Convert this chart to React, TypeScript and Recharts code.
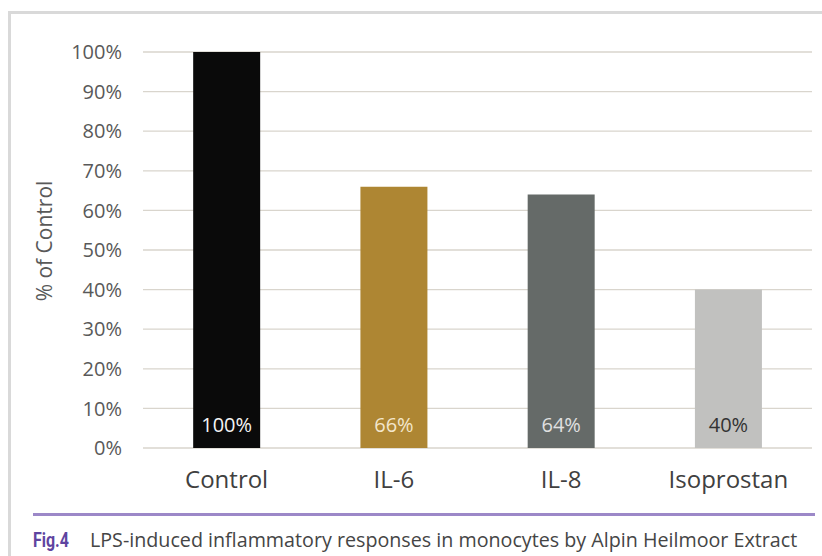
import React from "react";
import {
  BarChart,
  Bar,
  XAxis,
  YAxis,
  CartesianGrid,
  Cell,
  LabelList,
  Label,
} from "recharts";

const categories = ["Control", "IL-6", "IL-8", "Isoprostan"];
const percentOfControl = [100, 66, 64, 40];
const barColors = ["#0a0a0a", "#ae8633", "#656a68", "#c1c1bf"];
const valueLabelColors = ["#f4f4f4", "#f3e6cc", "#e0e0e0", "#333333"];
const yTicks = [0, 10, 20, 30, 40, 50, 60, 70, 80, 90, 100];

const data = categories.map((name, i) => ({ name, value: percentOfControl[i] }));

const FONT = "'Open Sans', 'Noto Sans', sans-serif";

const ValueLabel = (props: any) => {
  const { x, y, width, height, value, index } = props;
  return (
    <text
      x={x + width / 2}
      y={y + height - 24}
      textAnchor="middle"
      dominantBaseline="central"
      fontFamily={FONT}
      fontSize={20}
      fill={valueLabelColors[index]}
    >
      {value}%
    </text>
  );
};

const App: React.FC = () => {
  return (
    <div
      style={{
        position: "absolute",
        left: 0,
        top: 0,
        width: 822,
        height: 556,
        background: "#ffffff",
        overflow: "hidden",
        fontFamily: FONT,
      }}
    >
      {/* frame around the figure */}
      <div
        style={{
          position: "absolute",
          left: 8,
          top: 11,
          width: 830,
          height: 560,
          borderLeft: "3px solid #d9d9d9",
          borderTop: "3px solid #d9d9d9",
        }}
      />
      <div style={{ position: "absolute", left: 0, top: 0 }}>
        <BarChart
          width={822}
          height={500}
          data={data}
          margin={{ top: 52, right: 10, left: 0, bottom: 0 }}
          barCategoryGap="30%"
        >
          <CartesianGrid vertical={false} stroke="#d9d5cd" strokeWidth={1.3} />
          <XAxis
            dataKey="name"
            height={52}
            axisLine={false}
            tickLine={false}
            tickSize={0}
            tickMargin={23}
            tick={{ fontSize: 24, fill: "#404040", fontFamily: FONT }}
          />
          <YAxis
            width={143}
            domain={[0, 100]}
            ticks={yTicks}
            interval={0}
            axisLine={false}
            tickLine={false}
            tickSize={0}
            tickMargin={21}
            tickFormatter={(v: number) => `${v}%`}
            tick={{ fontSize: 20, fill: "#595959", fontFamily: FONT }}
          >
            <Label
              content={() => (
                <text
                  x={44}
                  y={241}
                  transform="rotate(-90 44 241)"
                  textAnchor="middle"
                  dominantBaseline="central"
                  fontFamily={FONT}
                  fontSize={21}
                  fill="#595959"
                >
                  % of Control
                </text>
              )}
            />
          </YAxis>
          <Bar dataKey="value" isAnimationActive={false}>
            {data.map((d, i) => (
              <Cell key={d.name} fill={barColors[i]} />
            ))}
            <LabelList dataKey="value" content={ValueLabel} />
          </Bar>
        </BarChart>
      </div>
      {/* caption */}
      <div
        style={{
          position: "absolute",
          left: 33,
          top: 513,
          width: 782,
          height: 0,
          borderTop: "3px solid #9c88c8",
        }}
      />
      <div
        style={{
          position: "absolute",
          left: 33,
          top: 527,
          whiteSpace: "nowrap",
          lineHeight: "26px",
        }}
      >
        <span
          style={{
            display: "inline-block",
            width: 57,
          }}
        >
          <span
            style={{
              display: "inline-block",
              fontFamily: "'Roboto', sans-serif",
              fontWeight: 700,
              fontSize: 21,
              color: "#5e44a0",
              transform: "scaleX(0.76)",
              transformOrigin: "left center",
            }}
          >
            Fig.4
          </span>
        </span>
        <span
          style={{
            fontFamily: FONT,
            fontSize: 19.7,
            color: "#454545",
          }}
        >
          LPS-induced inflammatory responses in monocytes by Alpin Heilmoor Extract
        </span>
      </div>
    </div>
  );
};

export default App;
